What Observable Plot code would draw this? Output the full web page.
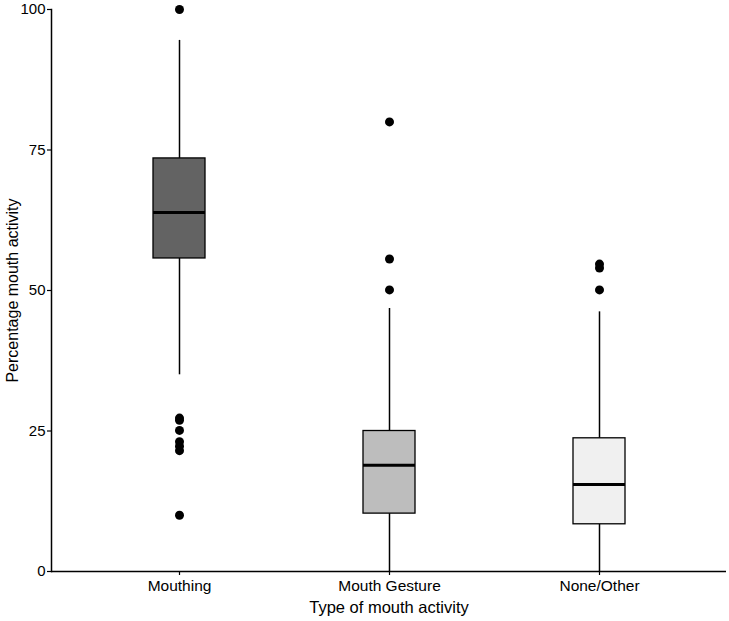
<!DOCTYPE html>
<html>
<head>
<meta charset="utf-8">
<script src="https://cdn.jsdelivr.net/npm/d3@7"></script>
<script src="https://cdn.jsdelivr.net/npm/@observablehq/plot@0.6"></script>
<style>
  html, body { margin: 0; padding: 0; background: #fff; }
  #chart svg { display: block; }
</style>
</head>
<body>
<div id="chart"></div>
<script>
const categories = ["Mouthing", "Mouth Gesture", "None/Other"];
const q1 = [55.7, 10.3, 8.4];
const median = [63.9, 18.9, 15.5];
const q3 = [73.5, 25.0, 23.7];
const whiskerLow = [35.0, 0, 0];
const whiskerHigh = [94.5, 46.8, 46.2];
const outliersMouthing = [100, 27.3, 26.9, 25.1, 23.1, 22.3, 21.5, 10.0];
const outliersGesture = [80, 55.6, 50.1];
const outliersNone = [54.7, 54.0, 50.1];
const fills = ["#636363", "#bdbdbd", "#f0f0f0"];
const yTicks = [0, 25, 50, 75, 100];

const boxes = categories.map((c, i) => ({
  cat: c, q1: q1[i], med: median[i], q3: q3[i],
  lo: whiskerLow[i], hi: whiskerHigh[i], fill: fills[i]
}));
const outliers = [
  ...outliersMouthing.map(v => ({cat: categories[0], v})),
  ...outliersGesture.map(v => ({cat: categories[1], v})),
  ...outliersNone.map(v => ({cat: categories[2], v}))
];

const font = "'Liberation Sans', Arial, Helvetica, sans-serif";
const inset = 58;

const chart = Plot.plot({
  width: 729,
  height: 621,
  marginLeft: 51,
  marginRight: 3,
  marginTop: 9,
  marginBottom: 50,
  style: {fontFamily: font, background: "#fff", color: "#000"},
  x: {domain: categories, padding: 0.2, label: null},
  y: {domain: [0, 100], label: null},
  marks: [
    Plot.ruleX(boxes, {x: "cat", y1: "lo", y2: "q1", stroke: "#000", strokeWidth: 1.5}),
    Plot.ruleX(boxes, {x: "cat", y1: "q3", y2: "hi", stroke: "#000", strokeWidth: 1.5}),
    Plot.barY(boxes, {x: "cat", y1: "q1", y2: "q3", fill: "fill", stroke: "#000", strokeWidth: 1.3, insetLeft: inset, insetRight: inset}),
    Plot.tickY(boxes, {x: "cat", y: "med", stroke: "#000", strokeWidth: 3, insetLeft: inset, insetRight: inset}),
    Plot.dot(outliers, {x: "cat", y: "v", r: 4.5, fill: "#000", stroke: "none"}),
    Plot.ruleY([0], {stroke: "#000", strokeWidth: 1.5}),
    Plot.frame({anchor: "left", stroke: "#000", strokeWidth: 1.5}),
    Plot.axisY({ticks: yTicks, tickSize: 4, tickPadding: 2, fontSize: 15, label: null, stroke: "#000", strokeWidth: 1.2}),
    Plot.axisX({tickSize: 4, tickPadding: 4, fontSize: 15.5, label: null, stroke: "#000", strokeWidth: 1.2}),
    Plot.text(["Type of mouth activity"], {frameAnchor: "bottom", dy: 41, fontSize: 16.5, fill: "#000"}),
    Plot.text(["Percentage mouth activity"], {frameAnchor: "left", textAnchor: "middle", dx: -39, rotate: -90, fontSize: 16, fill: "#000"})
  ]
});
document.getElementById("chart").appendChild(chart);
</script>
</body>
</html>
